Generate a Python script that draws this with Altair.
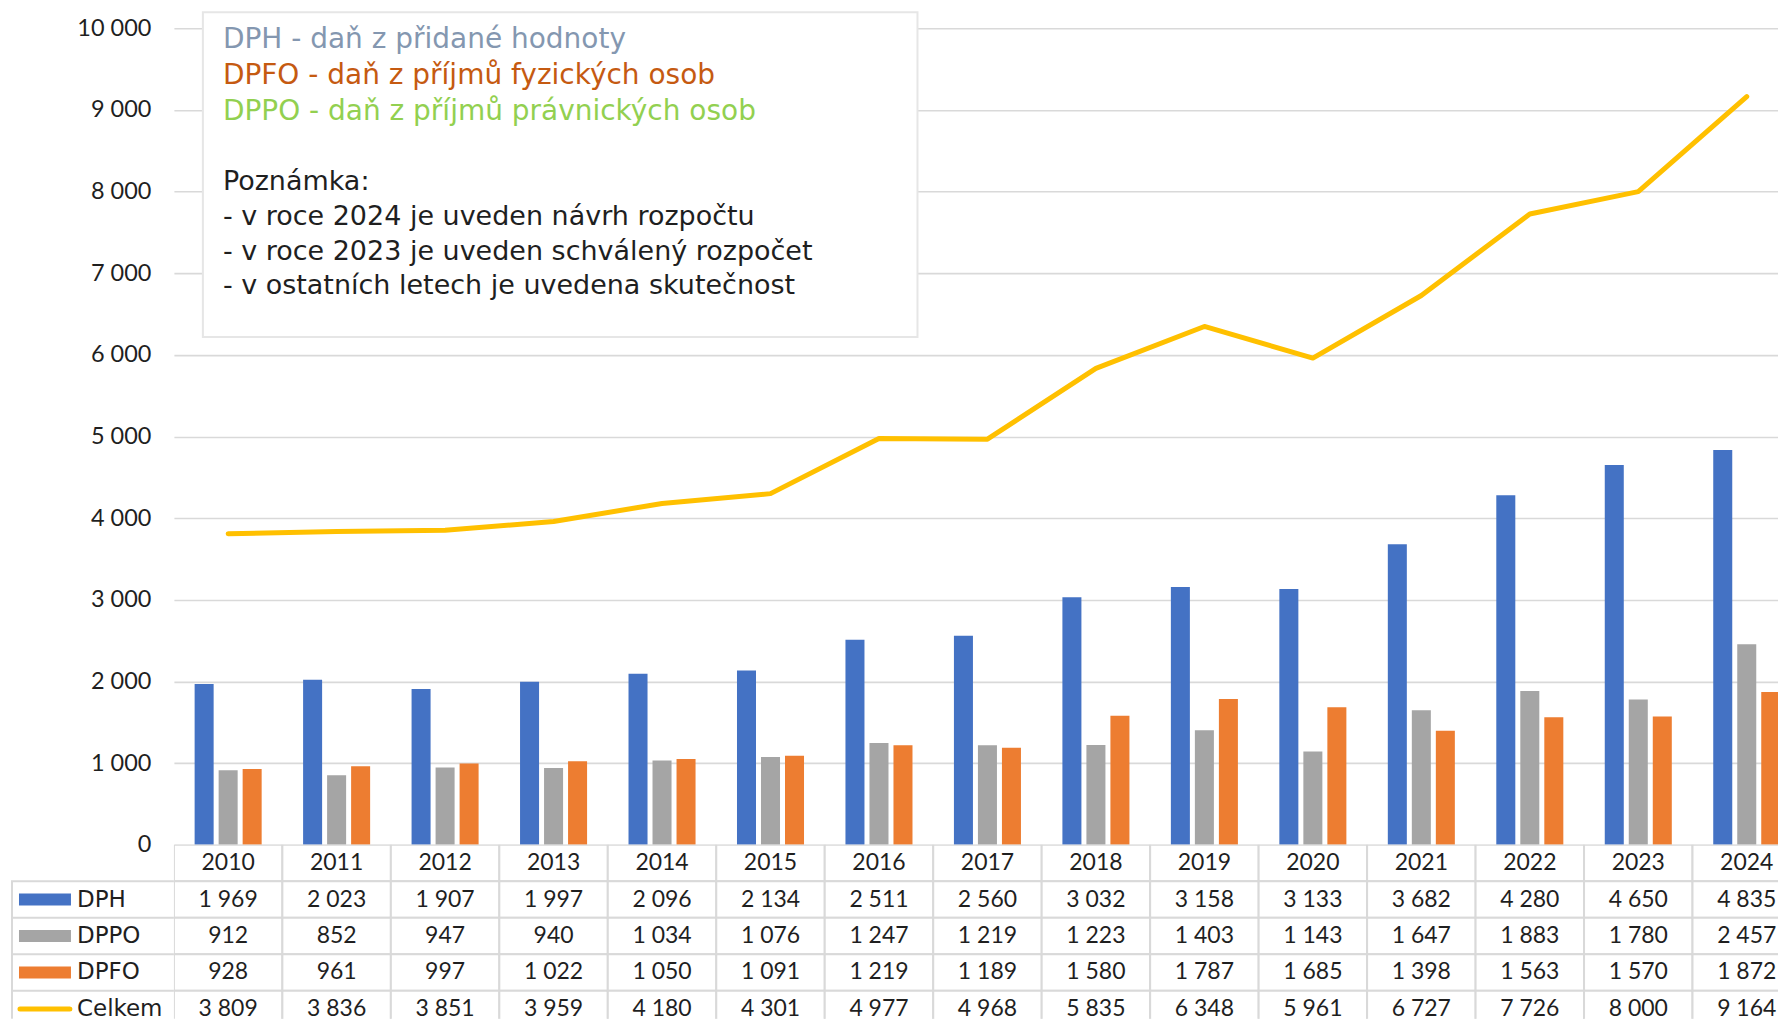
import altair as alt
import pandas as pd

years = [str(y) for y in range(2010, 2025)]
dph = [1969, 2023, 1907, 1997, 2096, 2134, 2511, 2560, 3032, 3158, 3133, 3682, 4280, 4650, 4835]
dppo = [912, 852, 947, 940, 1034, 1076, 1247, 1219, 1223, 1403, 1143, 1647, 1883, 1780, 2457]
dpfo = [928, 961, 997, 1022, 1050, 1091, 1219, 1189, 1580, 1787, 1685, 1398, 1563, 1570, 1872]
celkem = [3809, 3836, 3851, 3959, 4180, 4301, 4977, 4968, 5835, 6348, 5961, 6727, 7726, 8000, 9164]

series_names = ["DPH", "DPPO", "DPFO"]
series_colors = ["#4472C4", "#A5A5A5", "#ED7D31"]
line_color = "#FFC000"

title_lines = [
    ("DPH - daň z přidané hodnoty", "#8497B0"),
    ("DPFO - daň z příjmů fyzických osob", "#C55A11"),
    ("DPPO - daň z příjmů právnických osob", "#92D050"),
]
note_lines = [
    "Poznámka:",
    "- v roce 2024 je uveden návrh rozpočtu",
    "- v roce 2023 je uveden schválený rozpočet",
    "- v ostatních letech je uvedena skutečnost",
]

NUMFONT = "Lato"
WORDFONT = "DejaVu Sans"
TXT = "#1f1f1f"
GRID = "#d9d9d9"
W = 1605          # visible plot width
FULLW = 1628      # width of all 15 year columns (last one is cut off)
H = 817
ROWH = 36.5
TABH = 174        # visible table height (last row cut at the bottom)


def fmt(v):
    return f"{v:,}".replace(",", " ")


bars_df = pd.DataFrame(
    [
        {"year": y, "series": s, "value": v}
        for s, vals in zip(series_names, [dph, dppo, dpfo])
        for y, v in zip(years, vals)
    ]
)
line_df = pd.DataFrame({"year": years, "value": celkem})

xscale = alt.Scale(domain=years, range=[0, FULLW], paddingInner=0.336, paddingOuter=0.168)
yscale = alt.Scale(domain=[0, 10000], nice=False)
yaxis = alt.Axis(
    values=list(range(0, 10001, 1000)),
    labelExpr="replace(format(datum.value, ','), /,/g, ' ')",
    grid=True, gridColor=GRID, gridWidth=1.6,
    domain=False, ticks=False, labelPadding=23,
    labelFontSize=23.5, labelColor=TXT, labelFont=NUMFONT, title=None,
)

bars = alt.Chart(bars_df).mark_bar(clip=True).encode(
    x=alt.X("year:N", scale=xscale, axis=None),
    xOffset=alt.XOffset("series:N", sort=series_names,
                        scale=alt.Scale(domain=series_names, paddingInner=0.208, paddingOuter=0.104)),
    y=alt.Y("value:Q", scale=yscale, axis=yaxis),
    color=alt.Color("series:N", scale=alt.Scale(domain=series_names, range=series_colors), legend=None),
)

line = alt.Chart(line_df).mark_line(
    color=line_color, strokeWidth=5, strokeCap="round", strokeJoin="round", clip=True
).encode(
    x=alt.X("year:N", scale=xscale, axis=None),
    y=alt.Y("value:Q", scale=yscale, axis=yaxis),
)

one = pd.DataFrame({"k": [0]})
box = alt.Chart(one).mark_rect(fill="white", stroke="#e6e6e6", strokeWidth=2).encode(
    x=alt.value(29), x2=alt.value(744), y=alt.value(-16), y2=alt.value(309)
)
ann_layers = []
for i, (t, c) in enumerate(title_lines):
    ann_layers.append(
        alt.Chart(one).mark_text(align="left", baseline="middle", font=WORDFONT, fontSize=28, color=c).encode(
            x=alt.value(49), y=alt.value(12 + i * 36), text=alt.value(t)
        )
    )
for i, t in enumerate(note_lines):
    ann_layers.append(
        alt.Chart(one).mark_text(align="left", baseline="middle", font=WORDFONT, fontSize=27, color=TXT).encode(
            x=alt.value(49), y=alt.value(154 + i * 34.7), text=alt.value(t)
        )
    )

top = alt.layer(bars, line, box, *ann_layers).properties(width=W, height=H)

# data table
rows = ["Rok", "DPH", "DPPO", "DPFO", "Celkem"]
tab_rows = []
for i, y in enumerate(years):
    tab_rows.append({"year": y, "row": "Rok", "label": y})
    tab_rows.append({"year": y, "row": "DPH", "label": fmt(dph[i])})
    tab_rows.append({"year": y, "row": "DPPO", "label": fmt(dppo[i])})
    tab_rows.append({"year": y, "row": "DPFO", "label": fmt(dpfo[i])})
    tab_rows.append({"year": y, "row": "Celkem", "label": fmt(celkem[i])})
tab_df = pd.DataFrame(tab_rows)
lab_df = pd.DataFrame({"row": rows[1:]})

row_scale = alt.Scale(domain=rows, range=[0, ROWH * 5], paddingInner=0, paddingOuter=0)
tx = alt.X("year:N", scale=alt.Scale(domain=years, range=[0, FULLW], paddingInner=0, paddingOuter=0), axis=None)
ty = alt.Y("row:N", scale=row_scale, axis=None)

cells = alt.Chart(tab_df).mark_rect(fill="white", stroke=GRID, strokeWidth=2, clip=True).encode(x=tx, y=ty)
cell_text = alt.Chart(tab_df).mark_text(font=NUMFONT, fontSize=23, color=TXT, baseline="middle", clip=True).encode(
    x=tx, y=ty, text="label:N"
)
# borders of the row-label column (left of the year columns)
lab_hlines = alt.Chart(lab_df).mark_rule(color=GRID, strokeWidth=2).encode(
    x=alt.value(-163), x2=alt.value(0),
    y=alt.Y("row:N", scale=row_scale, axis=None, bandPosition=0),
)
lab_vline = alt.Chart(one).mark_rule(color=GRID, strokeWidth=2).encode(
    x=alt.value(-162), y=alt.value(ROWH), y2=alt.value(TABH)
)
lab_text = alt.Chart(lab_df).mark_text(font=WORDFONT, fontSize=23, color=TXT, align="left", baseline="middle").encode(
    x=alt.value(-97), y=ty, text="row:N"
)
sw_df = pd.DataFrame({"row": series_names})
swatches = alt.Chart(sw_df).mark_rule(strokeWidth=12, strokeCap="butt").encode(
    x=alt.value(-155), x2=alt.value(-103), y=ty,
    color=alt.Color("row:N", scale=alt.Scale(domain=series_names, range=series_colors), legend=None),
)
line_sw = alt.Chart(pd.DataFrame({"row": ["Celkem"]})).mark_rule(
    strokeWidth=5, strokeCap="round", color=line_color
).encode(x=alt.value(-154), x2=alt.value(-104), y=ty)

table = alt.layer(cells, cell_text, lab_hlines, lab_vline, lab_text, swatches, line_sw).properties(
    width=W, height=TABH
)

chart = alt.vconcat(top, table, spacing=0, bounds="flush").properties(
    padding={"left": 2, "top": 3, "right": 0, "bottom": 0}
).configure_view(strokeWidth=0, clip=False)

chart.save("out.html", embed_options={"renderer": "svg", "actions": False})
